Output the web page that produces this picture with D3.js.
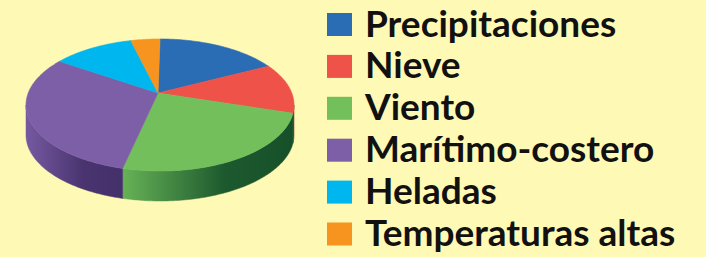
<!DOCTYPE html>
<html>
<head>
<meta charset="utf-8">
<script src="https://d3js.org/d3.v7.min.js"></script>
<style>
  html, body { margin: 0; padding: 0; background: #fef9b4; }
  svg { display: block; }
  .legend text { font-family: Lato, sans-serif; font-weight: 700; fill: #111; }
</style>
</head>
<body>
<div id="chart"></div>
<script>
// data
const categories = ["Precipitaciones", "Nieve", "Viento", "Marítimo-costero", "Heladas", "Temperaturas altas"];
const values = [15, 12, 27.5, 32, 10, 3.5];
const topColors = ["#2b6db5", "#ef5249", "#72bf5c", "#7d5fa8", "#00b6ef", "#f7941f"];
const sideDark = ["#1a3f6e", "#8a2420", "#16502a", "#44306a", "#006a8a", "#9a5a10"];

const width = 706, height = 257;

const svg = d3.select("#chart").append("svg")
  .attr("width", width)
  .attr("height", height);

// pie geometry (tilted disc)
const cx = 160, cy = 105, rx = 134, ry = 66, depth = 30;
const apex = [158, 93];

const pie = d3.pie().sort(null).value(d => d.value);
const arcs = pie(categories.map((c, i) => ({ name: c, value: values[i], i: i })));

function pt(a, dy) {
  return [cx + rx * Math.sin(a), cy - ry * Math.cos(a) + (dy || 0)];
}
function arcPts(a0, a1, dy) {
  const n = Math.max(2, Math.ceil(Math.abs(a1 - a0) / 0.02));
  return d3.range(n + 1).map(k => pt(a0 + (a1 - a0) * k / n, dy));
}
const line = d3.line();

const defs = svg.append("defs");
const g = svg.append("g");

// side walls, only the front half is seen
arcs.forEach(d => {
  const a0 = Math.max(d.startAngle, Math.PI / 2);
  const a1 = Math.min(d.endAngle, 3 * Math.PI / 2);
  if (a1 <= a0) return;
  const topEdge = arcPts(a0, a1, 0);
  const botEdge = arcPts(a1, a0, depth);
  const xs = topEdge.map(p => p[0]);
  const x0 = d3.min(xs), x1 = d3.max(xs);
  const gid = "side" + d.data.i;
  const grad = defs.append("linearGradient")
    .attr("id", gid)
    .attr("gradientUnits", "userSpaceOnUse")
    .attr("x1", x0).attr("x2", x1).attr("y1", 0).attr("y2", 0);
  const mix = d3.interpolateRgb(topColors[d.data.i], sideDark[d.data.i]);
  grad.append("stop").attr("offset", 0).attr("stop-color", mix(0.12));
  grad.append("stop").attr("offset", 0.6).attr("stop-color", mix(0.92));
  grad.append("stop").attr("offset", 1).attr("stop-color", sideDark[d.data.i]);
  g.append("path")
    .attr("d", line(topEdge.concat(botEdge)) + "Z")
    .attr("fill", "url(#" + gid + ")")
    .attr("stroke", "url(#" + gid + ")")
    .attr("stroke-width", 0.5);
});

// top faces
g.selectAll(".slice")
  .data(arcs)
  .join("path")
  .attr("class", "slice")
  .attr("d", d => line([apex].concat(arcPts(d.startAngle, d.endAngle, 0))) + "Z")
  .attr("fill", d => topColors[d.data.i])
  .attr("stroke", d => topColors[d.data.i])
  .attr("stroke-width", 0.6);

// legend
const y = d3.scalePoint().domain(categories).range([24.5, 234]);
const legend = svg.append("g").attr("class", "legend");
const rows = legend.selectAll("g")
  .data(categories)
  .join("g")
  .attr("transform", d => "translate(0," + y(d) + ")");
rows.append("rect")
  .attr("x", 327).attr("y", -11.5)
  .attr("width", 25).attr("height", 23)
  .attr("fill", (d, i) => topColors[i]);
rows.append("text")
  .attr("x", 365).attr("y", 12)
  .style("font-size", "37px")
  .text(d => d);
</script>
</body>
</html>
